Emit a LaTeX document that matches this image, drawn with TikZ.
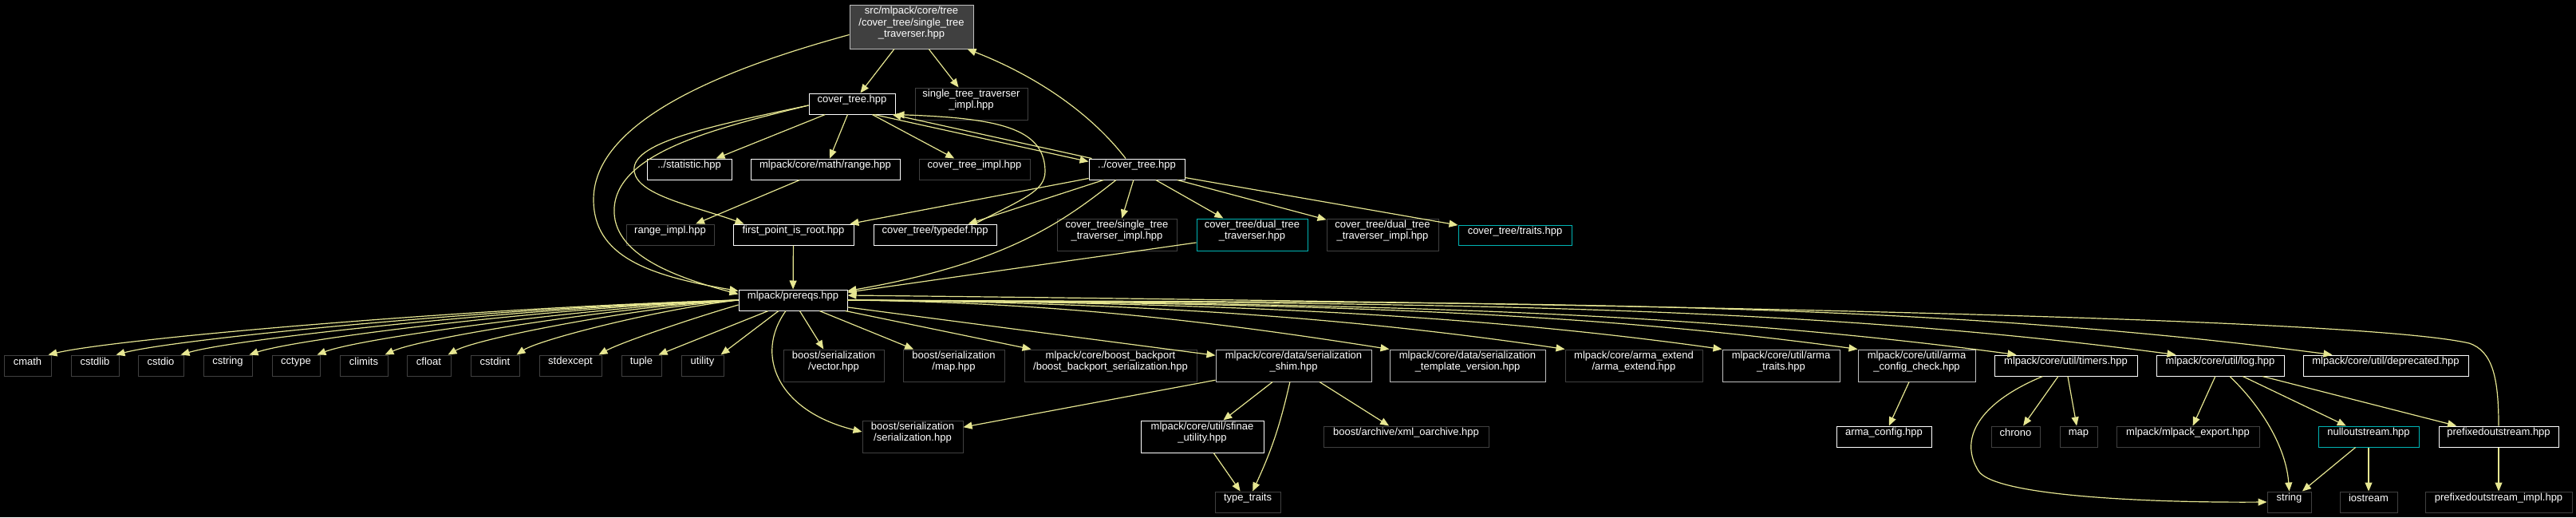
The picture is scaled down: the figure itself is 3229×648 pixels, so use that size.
\documentclass[tikz,border=0pt]{standalone}
\usepackage{fontspec}
\setmainfont{Liberation Sans}
\usetikzlibrary{arrows.meta,fit}
\definecolor{edgec}{RGB}{230,230,145}
\definecolor{lgray}{RGB}{191,191,191}
\definecolor{dgray}{RGB}{64,64,64}
\definecolor{cyanb}{RGB}{0,180,180}
\newcommand\dxfont{\fontsize{6.5pt}{7.3pt}\selectfont}
\newcommand\bx[7]{\node[#6, fit={(#2,-#3) (#4,-#5)}] (#1) {#7};}
\tikzset{
  base/.style={draw, rectangle, inner sep=0pt, line width=0.5pt, text=white, font=\dxfont, align=center},
  wb/.style={base, draw=white, fill=black},
  lb/.style={base, draw=lgray, fill=black},
  db/.style={base, draw=dgray, fill=black},
  cb/.style={base, draw=cyanb, fill=black},
  rootb/.style={base, draw=lgray, fill=dgray},
  e/.style={draw=edgec, line width=0.6pt, -{Triangle[length=5.5pt,width=4.5pt]}},
}
\begin{document}
\begin{tikzpicture}[x=0.5pt,y=0.5pt]
\fill[black] (0,0) rectangle (3229,-648);
\useasboundingbox (0,0) rectangle (3229,-648);
% nodes
\bx{T}{1065}{6}{1220}{61}{rootb}{src/mlpack/core/tree\\/cover\_tree/single\_tree\\\_traverser.hpp}
\bx{ct}{1014}{117}{1122}{143}{wb}{cover\_tree.hpp}
\bx{stti}{1147}{110}{1288}{150}{db}{single\_tree\_traverser\\\_impl.hpp}
\bx{stat}{811}{199}{917}{225}{wb}{../statistic.hpp}
\bx{rng}{941}{199}{1128}{225}{wb}{mlpack/core/math/range.hpp}
\bx{cti}{1152}{199}{1291}{225}{db}{cover\_tree\_impl.hpp}
\bx{pct}{1365}{199}{1485}{225}{wb}{../cover\_tree.hpp}
\bx{ri}{785}{281}{895}{307}{db}{range\_impl.hpp}
\bx{fpr}{919}{281}{1070}{307}{wb}{first\_point\_is\_root.hpp}
\bx{td}{1095}{281}{1249}{307}{wb}{cover\_tree/typedef.hpp}
\bx{cstti}{1325}{274}{1475}{314}{db}{cover\_tree/single\_tree\\\_traverser\_impl.hpp}
\bx{dtt}{1500}{274}{1639}{314}{cb}{cover\_tree/dual\_tree\\\_traverser.hpp}
\bx{dtti}{1663}{274}{1803}{314}{db}{cover\_tree/dual\_tree\\\_traverser\_impl.hpp}
\bx{traits}{1828}{282}{1970}{307}{cb}{cover\_tree/traits.hpp}
\bx{pre}{926}{363}{1062}{389}{wb}{mlpack/prereqs.hpp}
% row A
\bx{cmath}{5}{445}{64}{471}{db}{cmath}
\bx{cstdlib}{89}{445}{149}{471}{db}{cstdlib}
\bx{cstdio}{173}{445}{230}{471}{db}{cstdio}
\bx{cstring}{255}{445}{316}{471}{db}{cstring}
\bx{cctype}{341}{445}{401}{471}{db}{cctype}
\bx{climits}{426}{445}{486}{471}{db}{climits}
\bx{cfloat}{510}{445}{565}{471}{db}{cfloat}
\bx{cstdint}{590}{445}{651}{471}{db}{cstdint}
\bx{stdexcept}{676}{445}{754}{471}{db}{stdexcept}
\bx{tuple}{779}{445}{829}{471}{db}{tuple}
\bx{utility}{854}{445}{907}{471}{db}{utility}
\bx{bsv}{982}{438}{1108}{478}{db}{boost/serialization\\/vector.hpp}
\bx{bsm}{1132}{438}{1259}{478}{db}{boost/serialization\\/map.hpp}
\bx{bbp}{1284}{438}{1500}{478}{db}{mlpack/core/boost\_backport\\/boost\_backport\_serialization.hpp}
\bx{shim}{1524}{438}{1719}{478}{lb}{mlpack/core/data/serialization\\\_shim.hpp}
\bx{tv}{1742}{438}{1937}{478}{lb}{mlpack/core/data/serialization\\\_template\_version.hpp}
\bx{ae}{1962}{438}{2134}{478}{db}{mlpack/core/arma\_extend\\/arma\_extend.hpp}
\bx{atr}{2159}{438}{2306}{478}{lb}{mlpack/core/util/arma\\\_traits.hpp}
\bx{acc}{2329}{438}{2476}{478}{lb}{mlpack/core/util/arma\\\_config\_check.hpp}
\bx{timers}{2500}{445}{2679}{471}{wb}{mlpack/core/util/timers.hpp}
\bx{logn}{2703}{445}{2863}{471}{wb}{mlpack/core/util/log.hpp}
\bx{dep}{2887}{445}{3094}{471}{wb}{mlpack/core/util/deprecated.hpp}
% row B
\bx{bss}{1081}{527}{1207}{567}{db}{boost/serialization\\/serialization.hpp}
\bx{sfinae}{1430}{527}{1584}{567}{wb}{mlpack/core/util/sfinae\\\_utility.hpp}
\bx{xml}{1659}{534}{1866}{560}{db}{boost/archive/xml\_oarchive.hpp}
\bx{ac}{2302}{534}{2421}{560}{wb}{arma\_config.hpp}
\bx{chrono}{2496}{534}{2557}{560}{db}{chrono}
\bx{mapn}{2582}{534}{2629}{560}{db}{map}
\bx{mexp}{2653}{534}{2832}{560}{db}{mlpack/mlpack\_export.hpp}
\bx{nulln}{2906}{534}{3032}{560}{cb}{nulloutstream.hpp}
\bx{pos}{3057}{534}{3207}{560}{wb}{prefixedoutstream.hpp}
% row C
\bx{tt}{1523}{616}{1605}{642}{db}{type\_traits}
\bx{str}{2842}{616}{2897}{642}{db}{string}
\bx{ios}{2933}{616}{3005}{642}{db}{iostream}
\bx{posi}{3040}{616}{3224}{642}{db}{prefixedoutstream\_impl.hpp}
% edges: top part
\draw[e] (T) -- (ct);
\draw[e] (T) -- (stti);
\draw[e] ([yshift=-5pt]T.west) .. controls (950,-75) and (744,-140) .. (744,-250) .. controls (744,-320) and (810,-345) .. ([yshift=-1pt]pre.north west);
\draw[e] ([yshift=-1pt]ct.west) .. controls (900,-160) and (775,-190) .. (770,-260) .. controls (766,-320) and (850,-348) .. ([yshift=-3pt]pre.north west);
\draw[e] ([yshift=-1pt]ct.west) .. controls (880,-160) and (790,-180) .. (795,-215) .. controls (800,-245) and (870,-258) .. ([xshift=7pt]fpr.north west);
\draw[e] (ct) -- (stat);
\draw[e] (ct) -- (rng);
\draw[e] (ct) -- (cti);
\draw[e] ([xshift=-13.5pt]ct.south east) -- ([yshift=-2pt]pct.north west);
\draw[e] ([xshift=2pt]pct.north west) -- ([xshift=-2pt]ct.south east);
\draw[e] ([xshift=25pt]td.north) .. controls (1280,-250) and (1310,-240) .. (1310,-215) .. controls (1310,-160) and (1250,-148) .. (ct.south east);
\draw[e] ([xshift=-7pt]pct.north) .. controls (1350,-120) and (1260,-80) .. ([xshift=-4pt]T.south east);
\draw[e] (pct) -- (fpr);
\draw[e] (pct) -- (td);
\draw[e] ([xshift=-13pt]pct.south) .. controls (1330,-280) and (1260,-330) .. ([yshift=-1pt]pre.north east);
\draw[e] (pct) -- (cstti);
\draw[e] (pct) -- (dtt);
\draw[e] (pct) -- (dtti);
\draw[e] (pct) -- (traits);
\draw[e] (dtt) -- (pre);
\draw[e] (rng) -- (ri);
\draw[e] (fpr) -- (pre);
% prereqs fan left
\draw[e] (pre.west) .. controls (600,-385) and (147,-424) .. ([xshift=-2pt]cmath.north east);
\draw[e] (pre.west) .. controls (632,-385) and (223,-424) .. ([xshift=-2pt]cstdlib.north east);
\draw[e] (pre.west) .. controls (663,-385) and (296,-424) .. ([xshift=-2pt]cstdio.north east);
\draw[e] (pre.west) .. controls (695,-385) and (373,-424) .. ([xshift=-2pt]cstring.north east);
\draw[e] (pre.west) .. controls (727,-386) and (450,-424) .. ([xshift=-2pt]cctype.north east);
\draw[e] (pre.west) .. controls (759,-386) and (526,-424) .. ([xshift=-2pt]climits.north east);
\draw[e] (pre.west) .. controls (789,-387) and (598,-424) .. ([xshift=-2pt]cfloat.north east);
\draw[e] (pre.west) .. controls (821,-388) and (675,-426) .. ([xshift=-2pt]cstdint.north east);
\draw[e] ([yshift=-3pt]pre.west) .. controls (880,-395) and (780,-428) .. ([xshift=-2pt]stdexcept.north east);
\draw[e] ([xshift=-15.5pt]pre.south) -- ([xshift=-2pt]tuple.north east);
\draw[e] ([xshift=-9pt]pre.south) -- ([xshift=-2pt]utility.north east);
% prereqs fan right
\draw[e] (pre) -- (bsv);
\draw[e] (pre) -- (bsm);
\draw[e] (pre) -- (bbp);
\draw[e] (pre) -- (shim);
\draw[e] (pre.east) .. controls +(272,-3) and +(-204,32) .. (tv.north west);
\draw[e] (pre.east) .. controls +(360,-3) and +(-270,40) .. (ae.north west);
\draw[e] (pre.east) .. controls +(439,-3) and +(-329,46) .. (atr.north west);
\draw[e] (pre.east) .. controls +(507,-4) and +(-380,52) .. (acc.north west);
\draw[e] (pre.east) .. controls +(586,-4) and +(-440,59) .. ([xshift=14pt]timers.north west);
\draw[e] (pre.east) .. controls +(666,-4) and +(-500,66) .. ([xshift=12.5pt]logn.north west);
\draw[e] (pre.east) .. controls +(745,-4) and +(-559,73) .. ([xshift=18.5pt]dep.north west);
\draw[e] (pos.north) .. controls (3132,-475) and (3125,-440) .. (3095,-430) .. controls (2950,-397) and (2000,-380) .. ([yshift=3pt]pre.east);
\draw[e] ([xshift=-4.5pt]pre.south) .. controls (945,-445) and (975,-515) .. ([yshift=3pt]bss.west);
% lower part
\draw[e] (shim) -- (bss);
\draw[e] (shim) -- (sfinae);
\draw[e] (shim) to[bend left=6] (tt);
\draw[e] (shim) -- (xml);
\draw[e] (sfinae) -- (tt);
\draw[e] (acc) -- (ac);
\draw[e] (timers) -- (chrono);
\draw[e] (timers) -- (mapn);
\draw[e] ([xshift=-14.5pt]timers.south) .. controls (2480,-505) and (2455,-550) .. (2480,-590) .. controls (2500,-622) and (2700,-630) .. (str.west);
\draw[e] (logn) -- (mexp);
\draw[e] ([xshift=6pt]logn.south) .. controls (2840,-515) and (2866,-565) .. (str.north);
\draw[e] (logn) -- (nulln);
\draw[e] (logn) -- (pos);
\draw[e] (nulln) -- (str);
\draw[e] (nulln) -- (ios);
\draw[e] (pos) -- (posi);
\end{tikzpicture}
\end{document}
